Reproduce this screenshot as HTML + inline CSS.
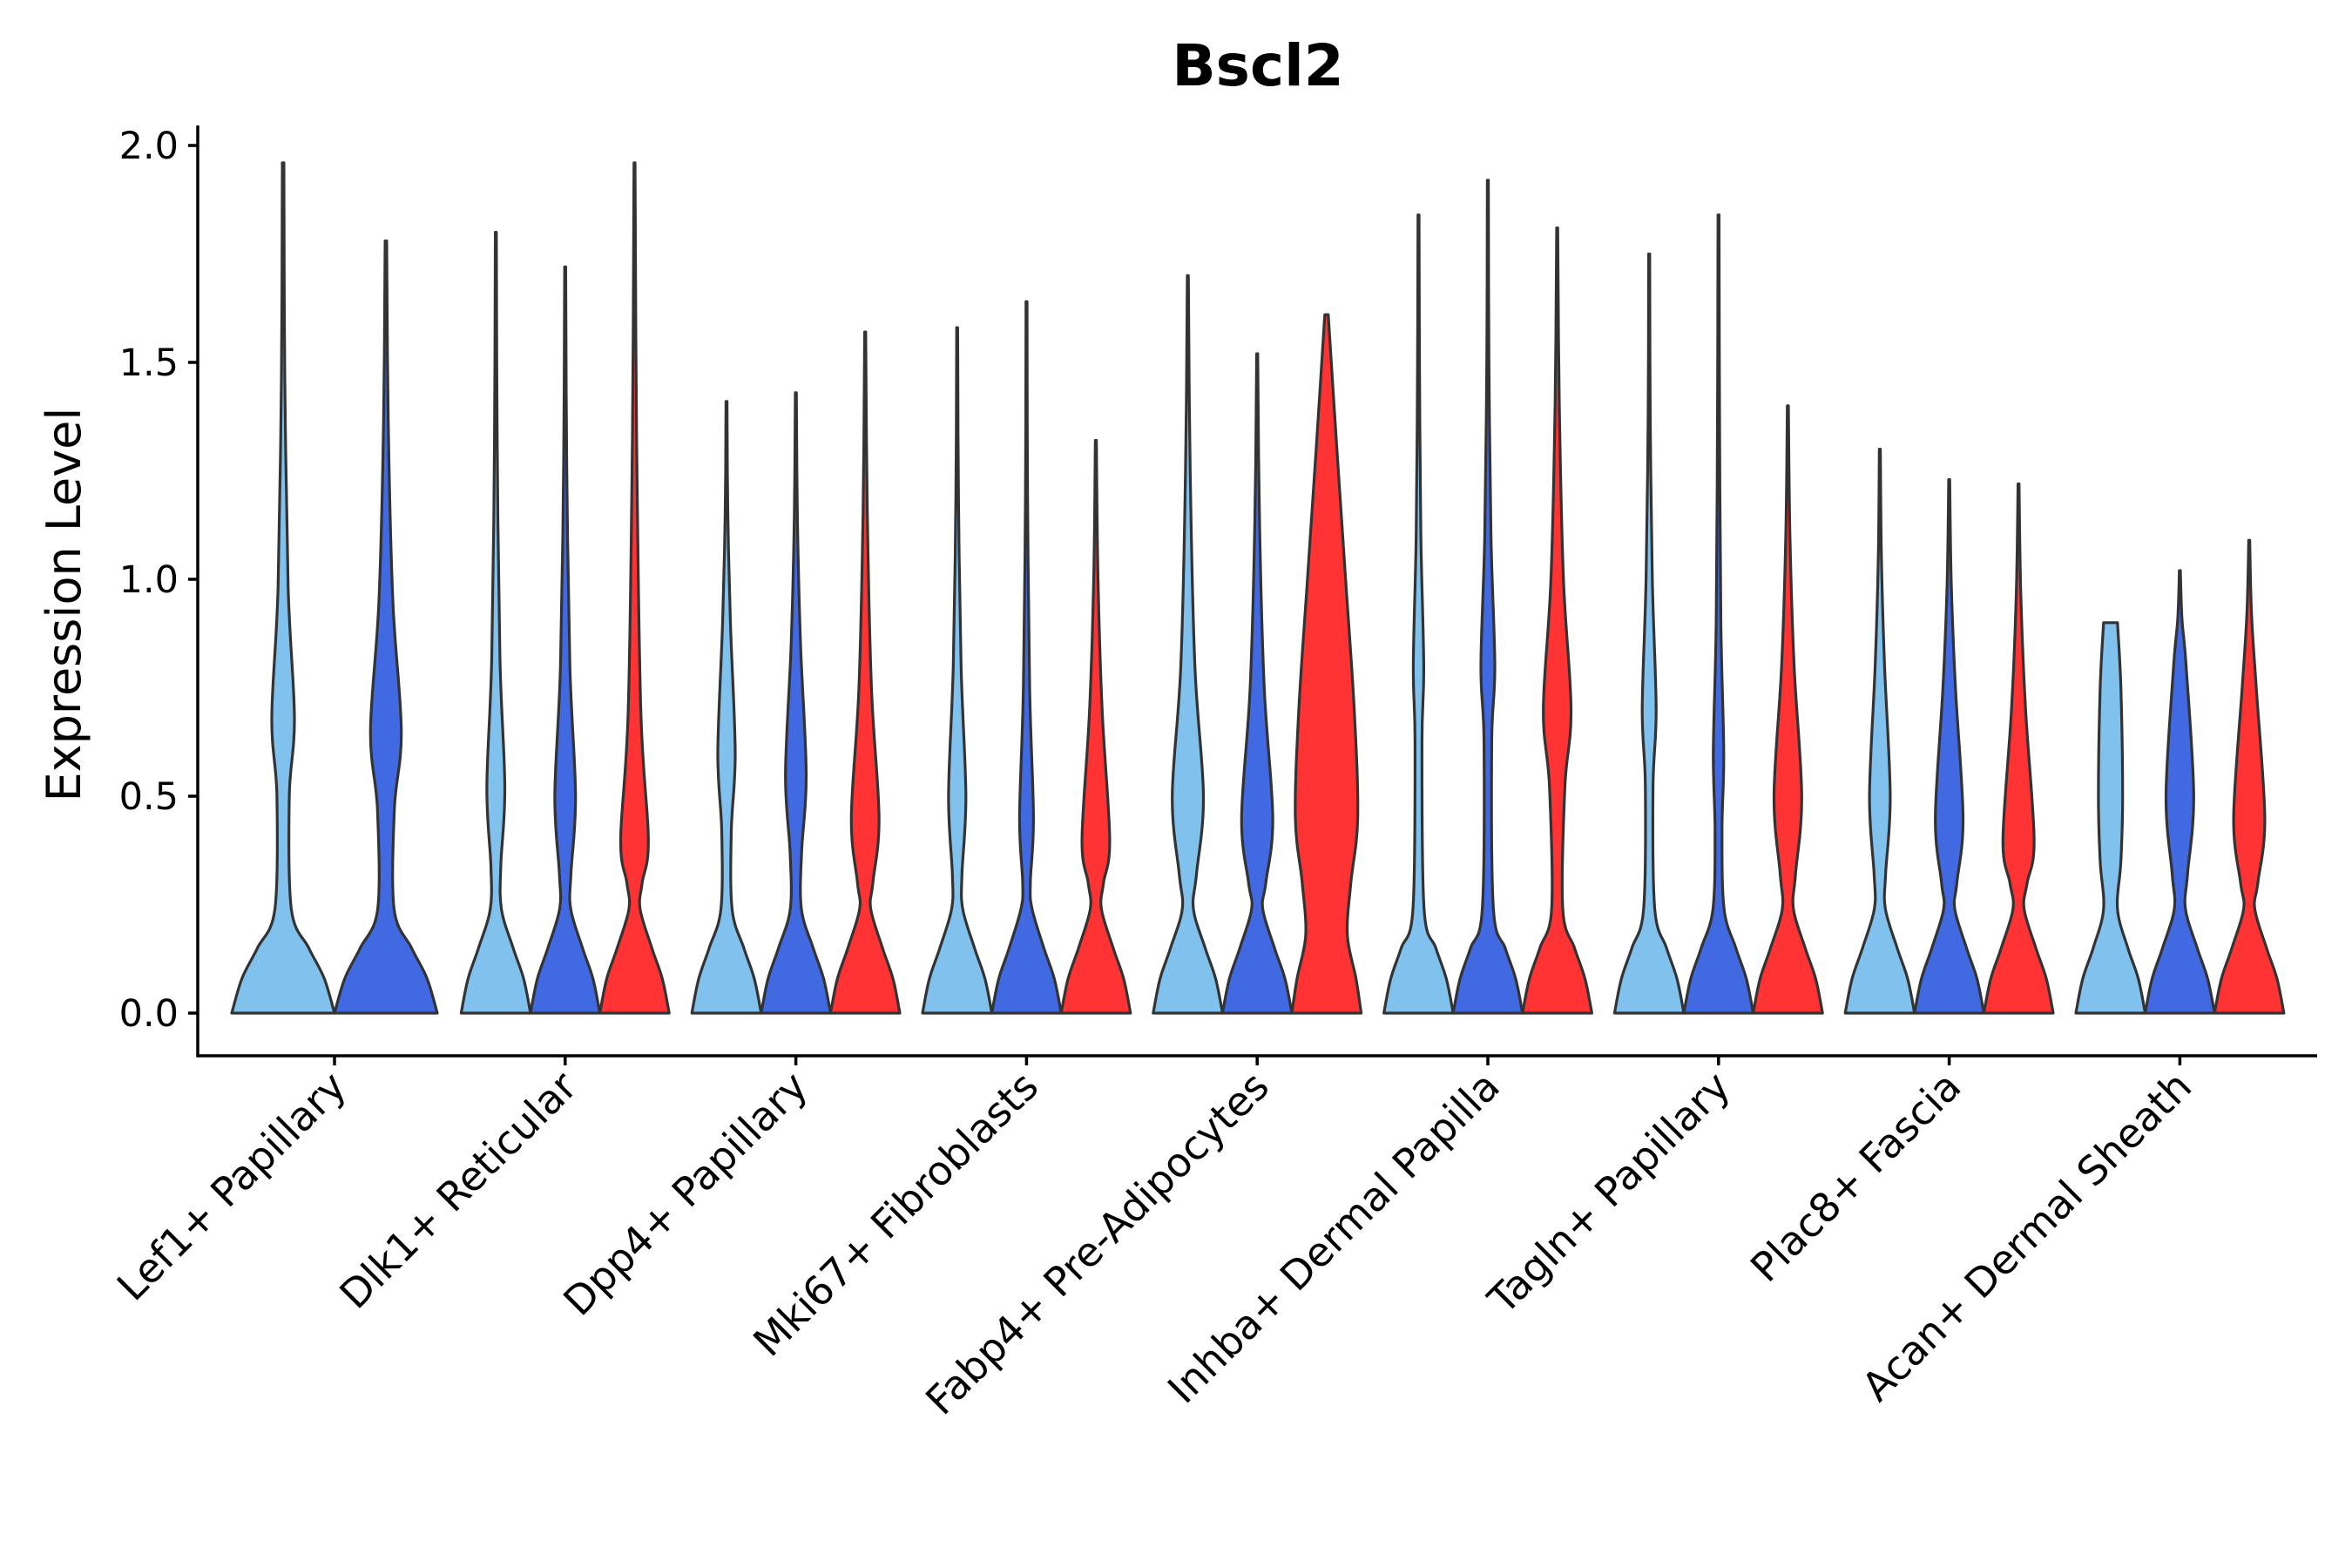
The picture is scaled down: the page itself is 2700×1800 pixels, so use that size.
<!DOCTYPE html>
<html><head><meta charset="utf-8">
<style>
html,body{margin:0;padding:0;background:#fff;}
svg{display:block;font-family:"DejaVu Sans","Liberation Sans",sans-serif;}
</style></head>
<body>
<svg id="chart" width="2700" height="1800" viewBox="0 0 2700 1800" xmlns="http://www.w3.org/2000/svg">
<rect width="2700" height="1800" fill="#fff"/>
<text x="1444" y="98" text-anchor="middle" font-size="66" font-weight="bold" fill="#000">Bscl2</text>
<g id="plot"></g>
</svg>
<script>
const categories = ["Lef1+ Papillary","Dlk1+ Reticular","Dpp4+ Papillary","Mki67+ Fibroblasts","Fabp4+ Pre-Adipocytes","Inhba+ Dermal Papilla","Tagln+ Papillary","Plac8+ Fascia","Acan+ Dermal Sheath"];
const groupColors = ["#80C1EE","#4169E1","#FF3333"];
const seriesPresent = [[0,1],[0,1,2],[0,1,2],[0,1,2],[0,1,2],[0,1,2],[0,1,2],[0,1,2],[0,1,2]];
const maxValues = [[1.96,1.78],[1.80,1.72,1.96],[1.41,1.43,1.57],[1.58,1.64,1.32],[1.70,1.52,1.61],[1.84,1.92,1.81],[1.75,1.84,1.40],[1.30,1.23,1.22],[0.90,1.02,1.09]];
const bulgeY = [[0.68,0.65],[0.52,0.50,0.40],[0.60,0.55,0.45],[0.50,0.45,0.40],[0.50,0.45,0.45],[0.80,0.80,0.70],[0.70,0.60,0.50],[0.50,0.45,0.40],[0.50,0.50,0.45]];
const bulgeW = [[0.22,0.3],[0.26,0.3,0.4],[0.25,0.3,0.4],[0.25,0.2,0.4],[0.45,0.45,0.9],[0.15,0.2,0.4],[0.2,0.15,0.4],[0.3,0.4,0.45],[0.35,0.4,0.45]];
const yTicks = [0.0,0.5,1.0,1.5,2.0];
const yTickLabels = ["0.0","0.5","1.0","1.5","2.0"];

const NS="http://www.w3.org/2000/svg";
const plot=document.getElementById('plot');
const axL=227, axB=1212, axR=2660, axT=144;
function yScale(v){return 1163 - v*498;}
function xScale(i){return 384 + i*264.8;}

function knots(top,by,bw){
  const k=[[0,1],[0.08,0.8],[0.15,0.5],[0.24,0.16]];
  const lo=Math.max(0.3,by-0.18);
  if(lo<by) k.push([lo,Math.max(0.1,bw*0.55)]);
  k.push([by,bw]);
  const hi=Math.min(by+0.3,top*0.85);
  if(hi>by) k.push([hi,bw*0.45]);
  const mid=(hi+top)/2;
  if(mid>hi && mid<top) k.push([mid,Math.max(0.03,bw*0.15)]);
  k.push([top,0.015]);
  return k;
}
function mk(tag,attrs){const e=document.createElementNS(NS,tag);for(const a in attrs)e.setAttribute(a,attrs[a]);return e;}
function catmull(pts){
  let d="";
  for(let i=0;i<pts.length-1;i++){
    const p0=pts[Math.max(0,i-1)],p1=pts[i],p2=pts[i+1],p3=pts[Math.min(pts.length-1,i+2)];
    const c1=[p1[0]+(p2[0]-p0[0])/6,p1[1]+(p2[1]-p0[1])/6];
    const c2=[p2[0]-(p3[0]-p1[0])/6,p2[1]-(p3[1]-p1[1])/6];
    d+=` C${c1[0].toFixed(1)},${c1[1].toFixed(1)} ${c2[0].toFixed(1)},${c2[1].toFixed(1)} ${p2[0].toFixed(1)},${p2[1].toFixed(1)}`;
  }
  return d;
}
categories.forEach((cat,i)=>{
  const ser=seriesPresent[i];
  const n=ser.length;
  const off = n===2 ? 59 : 79.6;
  const hw = n===2 ? 59 : 39.8;
  ser.forEach((s,j)=>{
    const cx = xScale(i) + (j-(n-1)/2)*off*(n===2?2:1);
    let k=knots(maxValues[i][j],bulgeY[i][j],bulgeW[i][j]);
    if(i===8&&j===0){k=[[0,1],[0.08,0.8],[0.15,0.5],[0.24,0.2],[0.35,0.3],[0.5,0.35],[0.75,0.3],[maxValues[i][j],0.2]];}
    if(i===4&&j===2){k=[[0,1],[0.08,0.85],[0.18,0.6],[0.3,0.7],[0.45,0.9],[0.7,0.8],[1.0,0.55],[1.3,0.3],[maxValues[i][j],0.05]];}
    const right=k.map(p=>[cx+p[1]*hw,yScale(p[0])]);
    const left=k.slice().reverse().map(p=>[cx-p[1]*hw,yScale(p[0])]);
    let d=`M${cx},${yScale(0)} L${right[0][0]},${right[0][1]}`+catmull(right)+` L${left[0][0]},${left[0][1]}`+catmull(left)+" Z";
    const path=mk('path',{d:d,fill:groupColors[s],stroke:"#333",'stroke-width':3.2,'stroke-linejoin':'round'});
    
    
    plot.appendChild(path);
  });
  const t=mk('line',{x1:xScale(i),x2:xScale(i),y1:axB,y2:axB+11,stroke:"#000",'stroke-width':3.5});
  
  
  plot.appendChild(t);
  const lx=xScale(i)+16, ly=axB+38;
  const lab=mk('text',{x:lx,y:ly,'text-anchor':'end','font-size':46,fill:"#000",transform:`rotate(-45 ${lx} ${ly})`});
  lab.textContent=cat;
  
  
  plot.appendChild(lab);
});
yTicks.forEach((v,i)=>{
  const t=mk('line',{x1:axL-11,x2:axL,y1:yScale(v),y2:yScale(v),stroke:"#000",'stroke-width':3.5});
  
  
  plot.appendChild(t);
  const l=mk('text',{x:axL-22,y:yScale(v)+15,'text-anchor':'end','font-size':43,fill:"#000"});
  l.textContent=yTickLabels[i];
  
  
  plot.appendChild(l);
});
const ya=mk('line',{x1:axL,x2:axL,y1:axT,y2:axB+1.75,stroke:"#000",'stroke-width':3.5});


plot.appendChild(ya);
const xa=mk('line',{x1:axL,x2:axR,y1:axB,y2:axB,stroke:"#000",'stroke-width':3.5});


plot.appendChild(xa);
const yt=mk('text',{x:92,y:694,'text-anchor':'middle','font-size':54,fill:"#000",transform:'rotate(-90 92 694)'});
yt.textContent="Expression Level";


plot.appendChild(yt);
</script>
</body></html>
